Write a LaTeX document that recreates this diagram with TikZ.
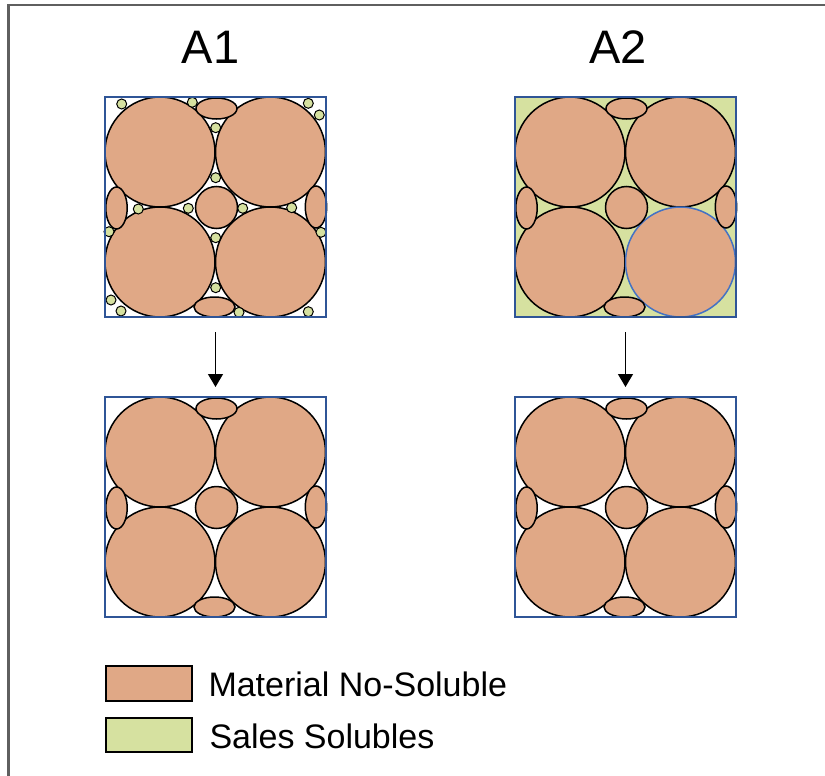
\documentclass[tikz,border=0pt]{standalone}
\usepackage{fontspec}
\setmainfont{Liberation Sans}
\usetikzlibrary{arrows.meta}

\definecolor{grain}{RGB}{224,168,134}
\definecolor{salt}{RGB}{214,225,160}
\definecolor{cellblue}{RGB}{47,85,151}
\definecolor{ringblue}{RGB}{68,114,196}
\definecolor{framegray}{RGB}{95,95,95}

\tikzset{
  grainshape/.style={fill=grain, draw=black, line width=1.5pt},
  saltdot/.style={fill=salt, draw=black, line width=1pt},
  celledge/.style={draw=cellblue, line width=1.1pt},
  flow/.style={-{Triangle[length=13pt,width=15pt]}, line width=1.4pt},
  title/.style={font=\fontsize{47}{56}\selectfont, anchor=base, inner sep=0pt},
  legendtext/.style={font=\fontsize{34}{40}\selectfont, anchor=base west, inner sep=0pt},
  swatch/.style={draw=black, line width=1.6pt}
}

% One packing cell: four large grains, four side ellipses and a centre grain.
% #1,#2 = top-left corner of the cell; #3 = background fill; #4 = edge of lower-right grain
\newcommand\packcell[4]{%
  \begin{scope}[shift={(#1,#2)}]
    \fill[#3] (0,0) rectangle (221,220);
    \draw[grainshape] (55,55) circle[radius=55];
    \draw[grainshape] (165.5,55) circle[radius=55];
    \draw[grainshape] (55,165) circle[radius=55];
    \draw[grainshape, draw=#4] (165.5,165) circle[radius=55];
    \draw[grainshape] (111.5,11.5) ellipse[x radius=20.5, y radius=10.5];
    \draw[grainshape] (109.5,210) ellipse[x radius=20.5, y radius=10];
    \draw[grainshape] (11.5,111) ellipse[x radius=10.7, y radius=21];
    \draw[grainshape] (211,110) ellipse[x radius=10.7, y radius=21];
    \draw[grainshape] (111.5,110.5) circle[radius=21];
  \end{scope}}

\begin{document}
\begin{tikzpicture}[x=1pt, y=-1pt]
  \useasboundingbox (0,0) rectangle (825,776);
  \fill[white] (0,0) rectangle (825,776);

  % outer frame (left and top edges)
  \draw[framegray, line width=2.2pt] (8.5,790) -- (8.5,5) -- (840,5);

  % titles
  \node[title] (titleA) at (210.5,63.3) {A1};
  \node[title] (titleB) at (618,63.3) {A2};

  % A1, before washing: grains with salt crystals in the pores
  \packcell{105}{97}{white}{black}
  \foreach \px/\py in {121.7/104, 192.3/102.3, 308.3/103.3, 319.3/115,
                       215.7/127.7, 215.7/177.7, 138.3/209, 188.3/208.3,
                       242.7/208.3, 291.7/207.7, 109/231.7, 321/232.3,
                       215.7/237.7, 215.7/287.7, 111/300, 121/311,
                       239/312.3, 308.3/311.7}
    \draw[saltdot] (\px,\py) circle[radius=5];
  \draw[celledge] (105,97) rectangle (326,317);

  % A2, before washing: pores filled with salt
  \packcell{515}{97}{salt}{ringblue}
  \draw[celledge] (515,97) rectangle (736,317);

  % after washing
  \packcell{105}{397}{white}{black}
  \draw[celledge] (105,397) rectangle (326,617);
  \packcell{515}{397}{white}{black}
  \draw[celledge] (515,397) rectangle (736,617);

  % arrows
  \coordinate (flowAtop) at (215.5,332);
  \coordinate (flowAbot) at (215.5,387);
  \coordinate (flowBtop) at (625.5,332);
  \coordinate (flowBbot) at (625.5,387);
  \draw[flow] (flowAtop) -- (flowAbot);
  \draw[flow] (flowBtop) -- (flowBbot);

  % legend
  \draw[swatch, fill=grain] (105.7,665.7) rectangle (191.7,700.7);
  \draw[swatch, fill=salt] (105.7,717.7) rectangle (191.7,751.7);
  \node[legendtext] (legendgrain) at (208.3,696.7) {Material No-Soluble};
  \node[legendtext] (legendsalt) at (209.3,748.3) {Sales Solubles};
\end{tikzpicture}
\end{document}
